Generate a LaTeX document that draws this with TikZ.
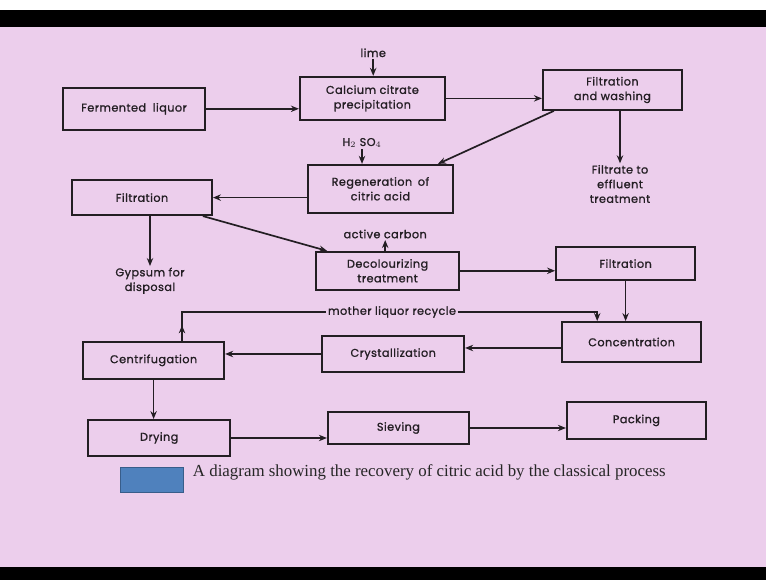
\documentclass[tikz,border=0pt]{standalone}
\usepackage{fontspec}
\usepackage{tikz}
\usetikzlibrary{arrows.meta, positioning, calc, decorations.markings}
\setmainfont{Liberation Serif}
\newfontfamily\diafont[LetterSpace=4, FakeBold=1.2]{Poppins}
\definecolor{slidepink}{RGB}{236, 206, 236}
\definecolor{inkgray}{RGB}{35, 30, 35}
\definecolor{legendblue}{RGB}{79, 129, 189}
\definecolor{legendedge}{RGB}{56, 93, 138}
\tikzstyle{stage} = [rectangle, draw=inkgray, line width=1.3pt, minimum width=3.52cm, minimum height=0.95cm, align=center, font=\diafont\fontsize{8}{10.4}\selectfont, text=inkgray]
\tikzstyle{feed} = [align=center, font=\diafont\fontsize{8}{10.4}\selectfont, text=inkgray, inner sep=1pt]
\tikzstyle{flow} = [-{Stealth[length=2mm, width=1.6mm]}, line width=1.2pt, draw=inkgray]

\begin{document}
\begin{tikzpicture}
    \useasboundingbox (0,0) rectangle (19.15,14.5);
    % Slide
    \fill[white] (0,0) rectangle (19.15,14.5);
    \fill[black] (0,13.825) rectangle (19.15,14.25);
    \fill[slidepink] (0,0.325) rectangle (19.15,13.825);
    \fill[black] (0,0) rectangle (19.15,0.325);

    % Process steps
    \node[stage, minimum width=3.55cm, minimum height=1.05cm] (fermented) at (3.35, 11.78) {Fermented\hspace{0.6em}liquor};
    \node[stage, minimum width=3.63cm, minimum height=1.08cm] (calcium) at (9.31, 12.04) {Calcium citrate\\precipitation};
    \node[stage, minimum width=3.48cm, minimum height=1.0cm] (filtwash) at (15.31, 12.25) {Filtration\\and washing};
    \node[stage, minimum width=3.63cm, minimum height=1.2cm] (regen) at (9.51, 9.78) {Regeneration\hspace{0.5em}of\\citric acid};
    \node[stage, minimum width=3.5cm, minimum height=0.88cm] (filtA) at (3.55, 9.56) {Filtration};
    \node[stage, minimum width=3.58cm, minimum height=0.95cm] (decol) at (9.69, 7.73) {Decolourizing\\treatment};
    \node[stage, minimum width=3.48cm, minimum height=0.83cm] (filtB) at (15.64, 7.91) {Filtration};
    \node[stage, minimum width=3.48cm, minimum height=1.0cm] (conc) at (15.79, 5.95) {Concentration};
    \node[stage, minimum width=3.55cm, minimum height=0.9cm] (cryst) at (9.83, 5.65) {Crystallization};
    \node[stage, minimum width=3.53cm, minimum height=0.93cm] (centri) at (3.84, 5.49) {Centrifugation};
    \node[stage, minimum width=3.55cm, minimum height=0.9cm] (drying) at (3.98, 3.55) {Drying};
    \node[stage, minimum width=3.53cm, minimum height=0.8cm] (sieving) at (9.96, 3.8) {Sieving};
    \node[stage, minimum width=3.48cm, minimum height=0.93cm] (packing) at (15.91, 3.99) {Packing};

    % Additions and outlets
    \node[feed] (lime) at (9.33, 13.18) {lime};
    \node[feed] (acid) at (9.05, 10.93) {H$_2$ SO$_4$};
    \node[feed] (carbon) at (9.63, 8.65) {active carbon};
    \node[feed] (filtrate) at (15.5, 9.9) {Filtrate to\\effluent\\treatment};
    \node[feed] (gypsum) at (3.75, 7.48) {Gypsum for\\disposal};
    \node[feed] (recycle) at (9.8, 6.7) {mother liquor recycle};

    % Main flow
    \draw[flow] (fermented.east) -- (fermented.east -| calcium.west);
    \draw[flow] (calcium.east) -- (calcium.east -| filtwash.west);
    \draw[flow] ([xshift=0.3cm]filtwash.south west) -- ([xshift=-0.4cm]regen.north east);
    \draw[flow] (regen.west |- filtA.east) -- (filtA.east);
    \draw[flow] ([xshift=-0.25cm]filtA.south east) -- ([xshift=0.3cm]decol.north west);
    \draw[flow] (decol.east) -- (decol.east -| filtB.west);
    \draw[flow] (filtB.south) -- (filtB.south |- conc.north);
    \draw[flow] ([yshift=-0.15cm]conc.west) -- ([yshift=-0.15cm]conc.west -| cryst.east);
    \draw[flow] (cryst.west) -- (cryst.west -| centri.east);
    \draw[flow] (centri.south) -- (centri.south |- drying.north);
    \draw[flow] (drying.east) -- (drying.east -| sieving.west);
    \draw[flow] (sieving.east) -- (sieving.east -| packing.west);

    % Side streams
    \draw[flow] (lime.south) -- (lime.south |- calcium.north);
    \draw[flow] (acid.south) -- (acid.south |- regen.north);
    \draw[flow] (carbon.south |- decol.north) -- (carbon.south);
    \draw[flow] (filtwash.south -| filtrate.north) -- (filtrate.north);
    \draw[flow] (filtA.south -| gypsum.north) -- (gypsum.north);

    % Mother liquor loop
    \draw[line width=1.2pt, draw=inkgray, postaction={decorate},
          decoration={markings, mark=at position 0.09 with {\arrow{Stealth[length=2mm, width=1.6mm]}}}]
        ([xshift=0.71cm]centri.north) |- (recycle.west);
    \draw[flow] (recycle.east) -| ([xshift=-0.86cm]conc.north);

    % Caption
    \fill[legendblue, draw=legendedge, line width=0.6pt] (3.0,2.2) rectangle (4.575,2.825);
    \node[anchor=west, font=\fontsize{12}{14}\selectfont, text=black!85] (caption) at (4.7, 2.7) {A diagram showing the recovery of citric acid by the classical process};
\end{tikzpicture}
\end{document}
